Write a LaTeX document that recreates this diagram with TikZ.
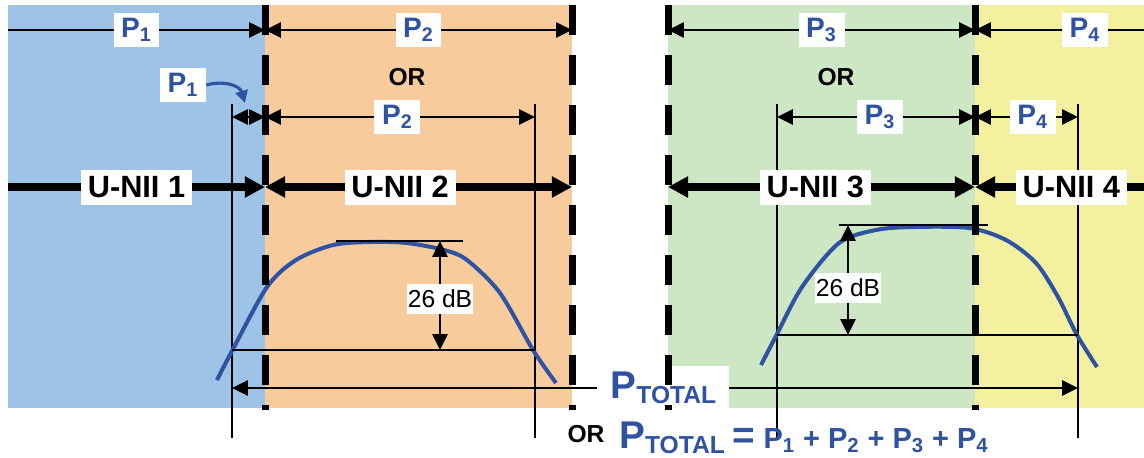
\documentclass[tikz,border=0pt]{standalone}
\usepackage{fontspec}
\setmainfont{Liberation Sans}
\usetikzlibrary{arrows.meta}

\definecolor{uniiblue}{HTML}{9DC3E6}
\definecolor{uniiorange}{HTML}{F8CB9C}
\definecolor{uniigreen}{HTML}{CDE6C4}
\definecolor{uniiyellow}{HTML}{F3F0A0}
\definecolor{pblue}{HTML}{2F52A3}

\newcommand{\pw}[1]{P\textsubscript{#1}}
\newcommand{\ptot}{{\fontsize{22}{24}\selectfont P}\raisebox{-3pt}{\fontsize{14}{15}\selectfont TOTAL}}

\begin{document}
\begin{tikzpicture}[
  x=0.02cm, y=-0.02cm, font=\bfseries,
  edge/.style={line width=0.14cm, dash pattern=on 0.6cm off 0.4cm},
  guide/.style={line width=0.9pt},
  dim/.style={line width=1.4pt, >={Triangle[length=9pt,width=8.5pt]}},
  wide/.style={line width=4pt, >={Triangle[length=11.5pt,width=11.5pt]}},
  spec/.style={line width=2.3pt, draw=pblue},
  curlarrow/.style={line width=1.8pt, draw=pblue, >={Triangle[length=7pt,width=7pt]}},
  plbl/.style={fill=white, text=pblue, font=\fontsize{16}{18}\bfseries,
               minimum width=0.92cm, minimum height=0.68cm, inner sep=0pt},
  ulbl/.style={fill=white, font=\fontsize{17.5}{20}\bfseries,
               minimum width=2.22cm, minimum height=0.7cm, inner sep=0pt},
  tlbl/.style={fill=white, text=pblue, minimum width=2.64cm, minimum height=0.9cm, inner sep=0pt},
  orlbl/.style={font=\fontsize{14}{16}\bfseries},
  dblbl/.style={fill=white, font=\fontsize{14}{16}\mdseries,
                minimum width=1.34cm, minimum height=0.6cm, inner sep=0pt},
]
\useasboundingbox (0,0) rectangle (1144,457);

% bands
\fill[uniiblue]   (8,5)   rectangle (265,408);
\fill[uniiorange] (265,5) rectangle (572,408);
\fill[uniigreen]  (668,5) rectangle (975,408);
\fill[uniiyellow] (975,5) rectangle (1144,408);

% 26 dB bandwidth guides
\foreach \x in {232,535,777,1078}
  \draw[guide] (\x,104) -- (\x,438);

% spectra
\draw[spec] plot[smooth] coordinates {(217,380) (232,351) (267,287) (296,260) (333,245)
  (370,242) (407,243) (444,250) (467,260) (500,293) (533,350) (556,383)};
\draw[spec] plot[smooth] coordinates {(761,365) (776,336) (802,287) (839,243) (876,230)
  (913,227) (969,228) (1006,240) (1036,263) (1058,297) (1077,335) (1097,367)};
\draw[guide, line width=1.3pt] (336,241) -- (463,241);
\draw[guide, line width=1.3pt] (232,350) -- (535,350);
\draw[guide, line width=1.3pt] (839,225) -- (988,225);
\draw[guide, line width=1.3pt] (777,335) -- (1078,335);

\coordinate (r1a) at (8,30);   \coordinate (r1b) at (265,30);
\coordinate (r1c) at (572,30); \coordinate (r1d) at (668,30);
\coordinate (r1e) at (975,30); \coordinate (r1f) at (1144,30);
\coordinate (r2a) at (232,117); \coordinate (r2b) at (265,117);
\coordinate (r2c) at (535,117); \coordinate (r2d) at (777,117);
\coordinate (r2e) at (975,117); \coordinate (r2f) at (1078,117);
\coordinate (r3a) at (8,187);   \coordinate (r3b) at (265,187);
\coordinate (r3c) at (572,187); \coordinate (r3d) at (668,187);
\coordinate (r3e) at (975,187); \coordinate (r3f) at (1144,187);
\coordinate (pk1) at (440,241); \coordinate (lv1) at (440,350);
\coordinate (pk2) at (848,225); \coordinate (lv2) at (848,335);
\coordinate (pt1) at (232,388); \coordinate (pt2) at (1078,388);
\coordinate (p1tip) at (245,103);

% band powers
\draw[dim,->]  (r1a) -- node[plbl] (p1a) {\pw{1}} (r1b);
\draw[dim,<->] (r1b) -- node[plbl] (p2a) {\pw{2}} (r1c);
\draw[dim,<->] (r1d) -- node[plbl] (p3a) {\pw{3}} (r1e);
\draw[dim,<-]  (r1e) -- node[plbl, pos=.65] (p4a) {\pw{4}} (r1f);

\node[orlbl] (or1) at (407,77) {OR};
\node[orlbl] (or2) at (836,77) {OR};

\draw[dim,<->] (r2a) -- (r2b);
\draw[dim,<->] (r2b) -- node[plbl, pos=.49] (p2b) {\pw{2}} (r2c);
\draw[dim,<->] (r2d) -- node[plbl, pos=.52] (p3b) {\pw{3}} (r2e);
\draw[dim,<->] (r2e) -- node[plbl, pos=.56] (p4b) {\pw{4}} (r2f);
\node[plbl] (p1b) at (183,85) {\pw{1}};
\draw[curlarrow,->] (p1b.east) .. controls (225,80) and (240,86) .. (p1tip);

% bands
\draw[wide,->]  (r3a) -- node[ulbl] (u1) {U-NII 1} (r3b);
\draw[wide,<->] (r3b) -- node[ulbl, pos=.44] (u2) {U-NII 2} (r3c);
\draw[wide,<->] (r3d) -- node[ulbl, pos=.48] (u3) {U-NII 3} (r3e);
\draw[wide,<-]  (r3e) -- node[ulbl, pos=.57] (u4) {U-NII 4} (r3f);

% 26 dB
\draw[dim,<->] (pk1) -- node[dblbl, pos=.53] (db1) {26 dB} (lv1);
\draw[dim,<->] (pk2) -- node[dblbl, pos=.57] (db2) {26 dB} (lv2);

% total
\draw[dim,<->] (pt1) -- node[tlbl, pos=.51] (ptl) {\ptot} (pt2);

% band edges
\foreach \x in {265,572,668,975}
  \draw[edge] (\x,5) -- (\x,410);

\node[orlbl, anchor=base] (ortot) at (586,442) {OR};
\node[anchor=base west, text=pblue, inner sep=0pt, font=\fontsize{16.5}{18}\bfseries] (sumtot) at (619,448)
  {\ptot\ {\fontsize{22}{24}\selectfont =} \pw{1} + \pw{2} + \pw{3} + \pw{4}};
\end{tikzpicture}
\end{document}
